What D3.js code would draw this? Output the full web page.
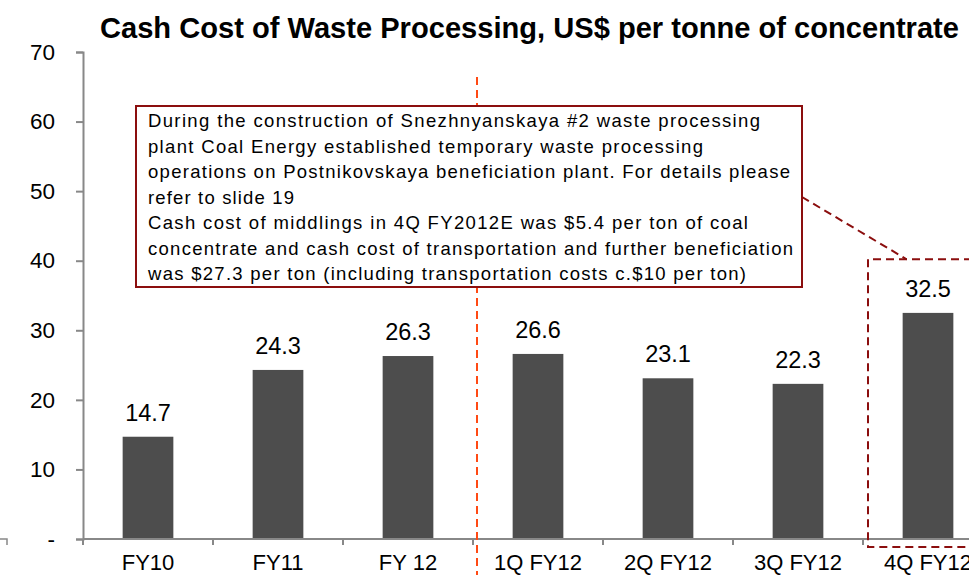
<!DOCTYPE html>
<html>
<head>
<meta charset="utf-8">
<script src="https://cdn.jsdelivr.net/npm/d3@7/dist/d3.min.js"></script>
<style>
  body { margin: 0; background: #fff; }
  text { font-family: Arial, "Liberation Sans", sans-serif; }
</style>
</head>
<body>
<svg id="chart" width="969" height="575"></svg>
<script>
// chart data
const categories = ["FY10", "FY11", "FY 12", "1Q FY12", "2Q FY12", "3Q FY12", "4Q FY12"];
const values = [14.7, 24.3, 26.3, 26.6, 23.1, 22.3, 32.5];
const yTicks = [0, 10, 20, 30, 40, 50, 60, 70];
const title = "Cash Cost of Waste Processing, US$ per tonne of concentrate";
const noteLines = [
    "During the construction of Snezhnyanskaya #2 waste processing",
    "plant Coal Energy established temporary waste processing",
    "operations on Postnikovskaya beneficiation plant. For details please",
    "refer to slide 19",
    "Cash cost of middlings in 4Q FY2012E was $5.4 per ton of coal",
    "concentrate and cash cost of transportation and further beneficiation",
    "was $27.3 per ton (including transportation costs c.$10 per ton)"
];
const noteWidths = [612, 555, 642, 146, 600, 645, 598];

const svg = d3.select("#chart");
const plotLeft = 83, plotBottom = 539, plotTop = 52;

let x = d3.scaleBand()
    .domain(categories)
    .range([plotLeft, plotLeft + 130 * categories.length])
    .paddingInner(0.61)
    .paddingOuter(0.305);

let y = d3.scaleLinear()
    .domain([0, 70])
    .range([plotBottom, plotTop]);

const step = x.step();
const gap = (step - x.bandwidth()) / 2;

// title
svg.append("text")
    .attr("x", 100)
    .attr("y", 38)
    .attr("font-size", 29.1)
    .attr("font-weight", "bold")
    .attr("fill", "#000")
    .text(title);

// y axis
let yAxis = d3.axisLeft(y)
    .tickValues(yTicks)
    .tickSize(7)
    .tickPadding(21)
    .tickFormat(d => d === 0 ? "-" : d);
let gy = svg.append("g")
    .attr("transform", "translate(" + plotLeft + ",0)")
    .call(yAxis);
gy.select(".domain").attr("stroke", "#888").attr("stroke-width", 2);
gy.selectAll(".tick line").attr("stroke", "#888").attr("stroke-width", 2);
gy.selectAll(".tick text")
    .attr("font-size", 22.5)
    .attr("fill", "#000")
    .attr("font-family", "Arial, 'Liberation Sans', sans-serif");

// bars
svg.selectAll(".bar")
    .data(values)
    .enter()
    .append("rect")
    .attr("class", "bar")
    .attr("x", (d, i) => x(categories[i]))
    .attr("y", d => y(d))
    .attr("width", x.bandwidth())
    .attr("height", d => plotBottom - y(d))
    .attr("fill", "#4d4d4d");

// value labels
svg.selectAll(".val")
    .data(values)
    .enter()
    .append("text")
    .attr("class", "val")
    .attr("x", (d, i) => x(categories[i]) + x.bandwidth() / 2)
    .attr("y", d => y(d) - 16)
    .attr("text-anchor", "middle")
    .attr("font-size", 23.5)
    .attr("fill", "#000")
    .text(d => d.toFixed(1));

// x axis line + boundary ticks
svg.append("line")
    .attr("x1", plotLeft).attr("x2", 969)
    .attr("y1", plotBottom).attr("y2", plotBottom)
    .attr("stroke", "#888").attr("stroke-width", 2);
svg.selectAll(".xtick")
    .data(categories)
    .enter()
    .append("line")
    .attr("x1", d => x(d) - gap)
    .attr("x2", d => x(d) - gap)
    .attr("y1", plotBottom)
    .attr("y2", plotBottom + 6)
    .attr("stroke", "#888").attr("stroke-width", 2);
svg.selectAll(".xlab")
    .data(categories)
    .enter()
    .append("text")
    .attr("x", d => x(d) + x.bandwidth() / 2)
    .attr("y", 570)
    .attr("text-anchor", "middle")
    .attr("font-size", 22)
    .attr("fill", "#000")
    .text(d => d);

// small clipped corner at far left
svg.append("path")
    .attr("d", "M0,539 H7 V545")
    .attr("fill", "none")
    .attr("stroke", "#888")
    .attr("stroke-width", 1.5);

// orange dashed divider between annual and quarterly
const divX = x("1Q FY12") - gap + 4;
svg.append("line")
    .attr("x1", divX).attr("x2", divX)
    .attr("y1", 77).attr("y2", 575)
    .attr("stroke", "#ff4a14")
    .attr("stroke-width", 2)
    .attr("stroke-dasharray", "8,5");

// dashed highlight box around 4Q
const hx = x("4Q FY12") - gap + 5;
svg.append("path")
    .attr("d", "M" + (hx + 130) + "," + y(40.2) + " H" + hx + " V" + (plotBottom + 8) + " H" + (hx + 130))
    .attr("fill", "none")
    .attr("stroke", "#8b0e0e")
    .attr("stroke-width", 2)
    .attr("stroke-dasharray", "8,5");

// connector from note to highlight box
svg.append("line")
    .attr("x1", 802).attr("y1", 197)
    .attr("x2", x("4Q FY12") + 4).attr("y2", y(40.2))
    .attr("stroke", "#8b0e0e")
    .attr("stroke-width", 2)
    .attr("stroke-dasharray", "8,5");

// note box
svg.append("rect")
    .attr("x", 136).attr("y", 106)
    .attr("width", 666).attr("height", 181)
    .attr("fill", "#fff")
    .attr("stroke", "#8b0e0e")
    .attr("stroke-width", 2);

svg.selectAll(".note")
    .data(noteLines)
    .enter()
    .append("text")
    .attr("class", "note")
    .attr("x", 148)
    .attr("y", (d, i) => 127 + i * 25.5)
    .attr("font-size", 18.5)
    .attr("fill", "#000")
    .attr("textLength", (d, i) => noteWidths[i])
    .attr("lengthAdjust", "spacing")
    .text(d => d);
</script>
</body>
</html>
